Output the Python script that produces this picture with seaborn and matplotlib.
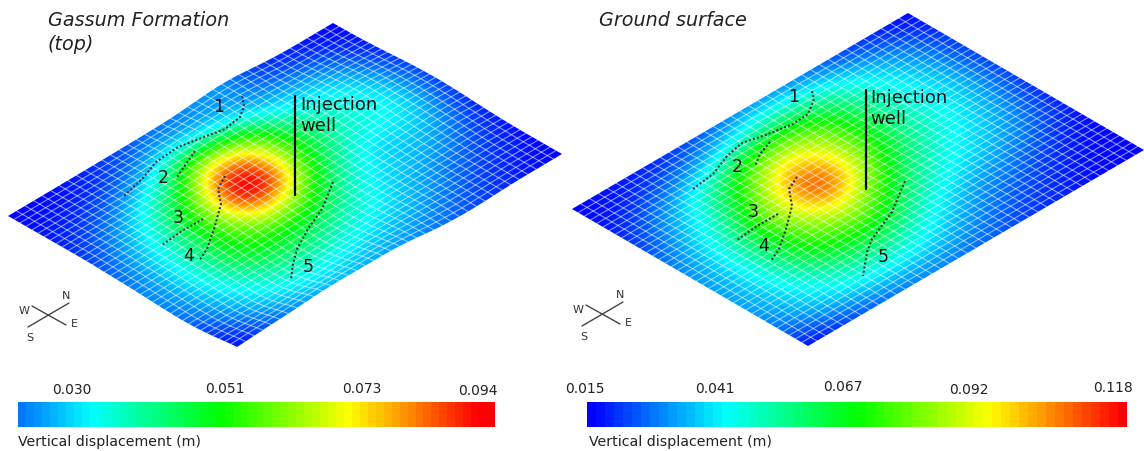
import numpy as np
import seaborn as sns
import matplotlib.pyplot as plt
from matplotlib.patches import Polygon
from matplotlib.transforms import Affine2D

W, H = 1144, 452

# displacement at 13 x 10 nodes of each surface (mm)
left_values = [
    [9, 9, 10, 12, 14, 17, 19, 21, 23, 13, 11, 10, 9],
    [10, 11, 12, 15, 21, 27, 24, 24, 20, 20, 18, 14, 10],
    [11, 14, 19, 27, 38, 60, 64, 52, 34, 30, 28, 20, 12],
    [13, 20, 28, 42, 58, 92, 90, 64, 44, 36, 32, 26, 14],
    [16, 24, 33, 50, 70, 104, 94, 58, 42, 34, 32, 28, 14],
    [19, 26, 37, 50, 63, 75, 62, 46, 33, 26, 28, 24, 12],
    [20, 26, 38, 50, 53, 50, 46, 35, 28, 26, 24, 18, 11],
    [18, 25, 32, 40, 42, 40, 34, 30, 26, 22, 18, 14, 10],
    [13, 21, 27, 31, 31, 29, 27, 25, 22, 18, 14, 12, 9],
    [9, 14, 18, 21, 23, 22, 21, 19, 17, 14, 12, 10, 9],
]
right_values = [
    [15, 16, 17, 18, 20, 24, 27, 28, 26, 22, 19, 17, 15],
    [16, 18, 22, 27, 34, 44, 52, 53, 47, 39, 32, 26, 18],
    [18, 27, 36, 49, 66, 80, 82, 72, 58, 45, 38, 30, 20],
    [22, 33, 42, 62, 84, 104, 96, 78, 59, 46, 40, 33, 20],
    [28, 37, 51, 75, 94, 118, 100, 72, 56, 46, 39, 32, 20],
    [30, 38, 54, 72, 85, 94, 76, 60, 47, 41, 36, 29, 18],
    [31, 38, 52, 66, 72, 72, 60, 47, 40, 36, 31, 25, 17],
    [30, 36, 43, 53, 56, 53, 43, 36, 30, 27, 23, 18, 15],
    [26, 33, 37, 40, 40, 38, 34, 29, 25, 22, 18, 16, 15],
    [15, 18, 22, 25, 27, 27, 25, 23, 20, 18, 16, 15, 15],
]
# how far the top of the formation is bent up or down in the picture (px)
left_relief = [
    [0, 0, 0, 0, 0, 0, 0, -3, -6, -3, 0, 0, 0],
    [0, 0, 0, 0, -1, -3, -5, -6, -5, -2, -1, -1, 0],
    [0, 0, 0, -1, -2, -3, -4, -3, -2, -4, -5, -4, -1],
    [0, 0, 0, -1, -2, -3, -3, -3, -5, -6, -7, -6, -3],
    [1, 1, 1, 0, -1, -2, -2, -3, -3, -4, -5, -6, -4],
    [2, 2, 2, 2, 1, 0, 0, 0, 0, -2, -3, -5, -3],
    [4, 3, 4, 4, 4, 3, 2, 2, 1, 0, -1, -3, -1],
    [5, 4, 5, 6, 6, 5, 4, 2, 1, 1, 0, -1, 0],
    [3, 4, 5, 4, 3, 1, 0, -1, 0, 1, 0, 0, 0],
    [0, -3, -4, -7, -7, -6, -6, -1, 2, 2, 0, 0, 0],
]

left_ticks = [0.030, 0.051, 0.073, 0.094]
right_ticks = [0.015, 0.041, 0.067, 0.092, 0.118]
left_range = (0.009, 0.094)
right_range = (0.015, 0.118)

# fault traces, picture pixels
left_faults = [
    [(242, 97), (244, 107), (240, 118), (225, 130), (204, 138), (178, 148), (156, 163), (142, 180), (124, 197)],
    [(195, 152), (186, 165), (177, 178)],
    [(203, 220), (182, 232), (162, 246)],
    [(225, 177), (218, 190), (221, 205), (214, 230), (207, 250), (199, 262)],
    [(333, 183), (322, 210), (308, 230), (297, 250), (293, 265), (291, 280)],
]
right_faults = [
    [(812, 92), (814, 100), (808, 115), (793, 125), (768, 135), (742, 144), (727, 157), (713, 175), (693, 190)],
    [(770, 143), (760, 155), (755, 167)],
    [(778, 215), (757, 227), (737, 241)],
    [(797, 178), (789, 190), (792, 207), (786, 230), (779, 250), (771, 262)],
    [(905, 182), (892, 213), (872, 240), (867, 253), (863, 277)],
]
left_numbers = [(219, 107), (163, 178), (178, 218), (189, 256), (308, 267)]
right_numbers = [(794, 97), (737, 167), (753, 212), (764, 246), (883, 257)]

sns.set_theme(style="white")
plt.rcParams['font.family'] = ['DejaVu Sans']
cmap = sns.blend_palette(["#0000ff", "#00ffff", "#00ff00", "#ffff00", "#ff0000"], as_cmap=True)

fig = plt.figure(figsize=(W / 100, H / 100), dpi=100)
ax = fig.add_axes([0, 0, 1, 1])


def bend_table(relief):
    # relief on a 201 x 201 lookup, softened so the mesh lines bend without corners
    rel = np.array(relief, dtype=float)
    t = np.linspace(0, 1, 201)
    by_u = np.array([np.interp(t, np.linspace(0, 1, rel.shape[1]), row) for row in rel])
    off = np.array([np.interp(t, np.linspace(0, 1, rel.shape[0]), by_u[:, k]) for k in range(201)]).T
    box = np.ones(25) / 25
    for axis in (0, 1):
        off = np.apply_along_axis(lambda a: np.convolve(np.pad(a, 12, mode='edge'), box, mode='valid'), axis, off)
    return off


def place(u, v, origin, e1, e2, bend):
    uu, vv = np.meshgrid(u, v)
    x = origin[0] + e1[0] * uu + e2[0] * vv
    y = origin[1] + e1[1] * uu + e2[1] * vv
    if bend is not None:
        iu = np.round(u * 200).astype(int)
        iv = np.round(v * 200).astype(int)
        y = y + bend[np.ix_(iv, iu)]
    return x, y


def surface(values, vrange, origin, e1, e2, relief=None):
    z = np.array(values) / 1000
    bend = None if relief is None else bend_table(relief)
    rows, cols = z.shape
    # edge cells repeated once so the colour still fills the bent outline
    du, dv = 1.5 / (cols - 1), 1.5 / (rows - 1)
    to_screen = Affine2D.from_values(e1[0], e1[1], e2[0], e2[1], origin[0], origin[1])
    im = ax.imshow(np.pad(z, 1, mode='edge'), origin='lower', aspect='auto', cmap=cmap,
                   vmin=vrange[0], vmax=vrange[1], interpolation='bicubic', interpolation_stage='data',
                   extent=(-du, 1 + du, -dv, 1 + dv), transform=to_screen + ax.transData, zorder=1)
    line = np.linspace(0, 1, 201)
    # outline of the block
    xt, yt = place(line, np.array([0.0]), origin, e1, e2, bend)
    xr, yr = place(np.array([1.0]), line, origin, e1, e2, bend)
    xb, yb = place(line[::-1], np.array([1.0]), origin, e1, e2, bend)
    xl, yl = place(np.array([0.0]), line[::-1], origin, e1, e2, bend)
    outline = np.column_stack([np.r_[xt[0], xr[:, 0], xb[0], xl[:, 0]], np.r_[yt[0], yr[:, 0], yb[0], yl[:, 0]]])
    im.set_clip_path(Polygon(outline, closed=True, transform=ax.transData))
    # white wire mesh, the outer edge stays without a line
    for s in np.linspace(0, 1, 39)[1:-1]:
        xa, ya = place(line, np.array([s]), origin, e1, e2, bend)
        ax.plot(xa[0], ya[0], color='white', lw=0.8, alpha=0.55, zorder=2)
        xc, yc = place(np.array([s]), line, origin, e1, e2, bend)
        ax.plot(xc[:, 0], yc[:, 0], color='white', lw=0.8, alpha=0.55, zorder=2)


def notes(faults, numbers, well_x, well_y, compass, text_x, text_y):
    for f in faults:
        fx, fy = zip(*f)
        ax.plot(fx, fy, color='#333344', lw=1.5, ls=(0, (1, 1)), zorder=3)
    for k, (nx, ny) in enumerate(numbers):
        ax.text(nx, ny, str(k + 1), fontsize=12.5, color='#111111', ha='center', va='center', zorder=4)
    ax.plot([well_x, well_x], well_y, color='black', lw=1.6, zorder=4)
    ax.text(text_x, text_y[0], 'Injection', fontsize=13, color='#111111', va='center', zorder=4)
    ax.text(text_x, text_y[1], 'well', fontsize=13, color='#111111', va='center', zorder=4)
    cx, cy = compass
    ax.plot([cx - 17, cx + 17], [cy - 10, cy + 9], color='#444444', lw=1)
    ax.plot([cx - 21, cx + 20], [cy + 11, cy - 13], color='#444444', lw=1)
    for lab, dx, dy in [('N', 17, -21), ('W', -25, -6), ('E', 25, 7), ('S', -19, 21)]:
        ax.text(cx + dx, cy + dy, lab, fontsize=8, color='#333333', ha='center', va='center')


surface(left_values, left_range, (8, 217), (325, -193), (229, 131), left_relief)
surface(right_values, right_range, (572, 210), (336, -196), (236, 137))
notes(left_faults, left_numbers, 295, (97, 196), (49, 317), 300, (105, 126))
notes(right_faults, right_numbers, 866, (91, 190), (603, 316), 870, (98, 119))

ax.text(48, 21, 'Gassum Formation', fontsize=13.8, style='italic', color='#222222', va='center')
ax.text(48, 44, '(top)', fontsize=13.8, style='italic', color='#222222', va='center')
ax.text(599, 20, 'Ground surface', fontsize=13.8, style='italic', color='#222222', va='center')

for lab, tx, ty in zip(left_ticks, [72, 225, 362, 478], [390, 389, 389, 391]):
    ax.text(tx, ty, f'{lab:.3f}', fontsize=10, color='#222222', ha='center', va='center')
for lab, tx, ty in zip(right_ticks, [585, 715, 843, 969, 1113], [389, 389, 387, 390, 388]):
    ax.text(tx, ty, f'{lab:.3f}', fontsize=10, color='#222222', ha='center', va='center')
ax.text(18, 442, 'Vertical displacement (m)', fontsize=10.2, color='#222222', va='center')
ax.text(589, 442, 'Vertical displacement (m)', fontsize=10.2, color='#222222', va='center')

ax.set_xlim(0, W)
ax.set_ylim(H, 0)
ax.axis('off')


def colour_bar(x0, x1, vrange, bar_min, bar_max):
    cax = fig.add_axes([x0 / W, 1 - 428 / H, (x1 - x0) / W, 25 / H])
    levels = np.linspace(bar_min, bar_max, 60).reshape(1, -1)
    sns.heatmap(levels, ax=cax, cmap=cmap, vmin=vrange[0], vmax=vrange[1], cbar=False,
                xticklabels=False, yticklabels=False)


colour_bar(18, 495, left_range, 0.019, 0.096)
colour_bar(587, 1127, right_range, 0.015, 0.118)

plt.savefig('out.png', dpi=100)
